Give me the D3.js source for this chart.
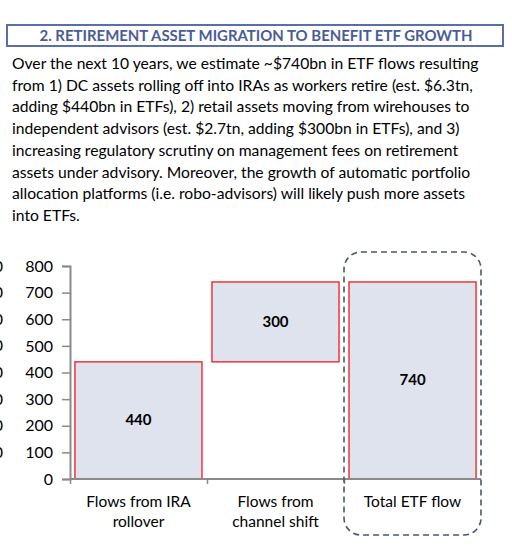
<!DOCTYPE html>
<html><head><meta charset="utf-8">
<script src="https://cdn.jsdelivr.net/npm/d3@7"></script>
<style>body{margin:0;background:#fff;} svg{display:block;}</style>
</head><body>
<svg id="c" width="512" height="550"></svg>
<script>
const titleText = "2. RETIREMENT ASSET MIGRATION TO BENEFIT ETF GROWTH";
const paragraph = [
  "Over the next 10 years, we estimate ~$740bn in ETF flows resulting",
  "from 1) DC assets rolling off into IRAs as workers retire (est. $6.3tn,",
  "adding $440bn in ETFs), 2) retail assets moving from wirehouses to",
  "independent advisors (est. $2.7tn, adding $300bn in ETFs), and 3)",
  "increasing regulatory scrutiny on management fees on retirement",
  "assets under advisory.  Moreover, the growth of automatic portfolio",
  "allocation platforms (i.e. robo-advisors) will likely push more assets",
  "into ETFs."
];
const categories = [["Flows from IRA","rollover"],["Flows from","channel shift"],["Total ETF flow"]];
const barBase = [0, 440, 0];
const barValue = [440, 300, 740];
const yTicks = [0,100,200,300,400,500,600,700,800];

const svg = d3.select("#c");
const font = "Lato, 'Open Sans', sans-serif";

// title box
svg.append("rect").attr("x",7).attr("y",25).attr("width",496).attr("height",21)
  .attr("fill","none").attr("stroke","#5b6ea6").attr("stroke-width",2);
svg.append("text").attr("x",256).attr("y",41).attr("text-anchor","middle")
  .attr("font-family",font).attr("font-weight","bold").attr("font-size",15)
  .attr("fill","#4a5c96").attr("textLength",433).attr("lengthAdjust","spacingAndGlyphs")
  .text(titleText);

// paragraph
const pg = svg.append("g").attr("font-family",font).attr("fill","#000");
const lines = pg.selectAll("text").data(paragraph).join("text")
  .attr("x",12).attr("y",(d,i)=>69 + i*21.7).attr("font-size",16).text(d=>d);
const w0 = lines.nodes()[0].getComputedTextLength();
const fs = 16 * 467 / w0;
lines.attr("font-size", fs);

// chart
const x = d3.scaleBand().domain(d3.range(categories.length)).range([70,481]).paddingInner(0.073).paddingOuter(0.036);
const y = d3.scaleLinear().domain([0,800]).range([479,266]);

// partial labels from a neighbouring chart, cut off at the left edge
svg.append("g").selectAll("text").data(yTicks.slice(1)).join("text")
  .attr("x",3).attr("y",d=>y(d)+5.5).attr("text-anchor","end")
  .attr("font-family",font).attr("font-size",16).attr("fill","#000").text("0");

// bars
svg.append("g").selectAll("rect").data(barValue).join("rect")
  .attr("x",(d,i)=>x(i)).attr("width",x.bandwidth())
  .attr("y",(d,i)=>y(barBase[i]+d)).attr("height",(d,i)=>y(barBase[i])-y(barBase[i]+d))
  .attr("fill","#dfe3ee").attr("stroke","#f0353b").attr("stroke-width",1.5);

// axes
const yAxis = d3.axisLeft(y).tickValues(yTicks).tickSize(8).tickPadding(9);
const gy = svg.append("g").attr("transform","translate(70,0)").call(yAxis);
gy.select(".domain").attr("stroke","#8a8a8a").attr("stroke-width",2);
gy.selectAll(".tick line").attr("stroke","#8a8a8a").attr("stroke-width",1.5);
gy.selectAll(".tick text").attr("font-family",font).attr("font-size",16).attr("fill","#000");

const xLine = d3.scaleLinear().domain([0,3]).range([70,481]);
const xAxis = d3.axisBottom(xLine).tickValues([0,1,2]).tickSize(5).tickFormat("");
const gx = svg.append("g").attr("transform","translate(0,479)").call(xAxis);
gx.select(".domain").attr("stroke","#8a8a8a").attr("stroke-width",2).attr("d","M70,0H481");
gx.selectAll(".tick line").attr("stroke","#8a8a8a").attr("stroke-width",1.5);

// value labels
svg.append("g").selectAll("text").data(barValue).join("text")
  .attr("x",(d,i)=>x(i)+x.bandwidth()/2)
  .attr("y",(d,i)=>(y(barBase[i])+y(barBase[i]+d))/2+5)
  .attr("text-anchor","middle").attr("font-family",font).attr("font-weight","bold")
  .attr("font-size",15).attr("fill","#000").text(d=>d);

// category labels
const cg = svg.append("g").attr("font-family",font).attr("font-size",15.5).attr("fill","#000").attr("text-anchor","middle");
categories.forEach((c,i)=>{
  const cx = xLine(i+0.5);
  c.forEach((t,j)=>{
    cg.append("text").attr("x",cx).attr("y",507+j*19.5).text(t);
  });
});

// dashed rounded box
svg.append("rect").attr("x",xLine(2)).attr("y",252).attr("width",xLine(3)-xLine(2)).attr("height",283)
  .attr("rx",17).attr("ry",17).attr("fill","none").attr("stroke","#4a5570")
  .attr("stroke-width",1.6).attr("stroke-dasharray","6,4");
</script>
</body></html>
